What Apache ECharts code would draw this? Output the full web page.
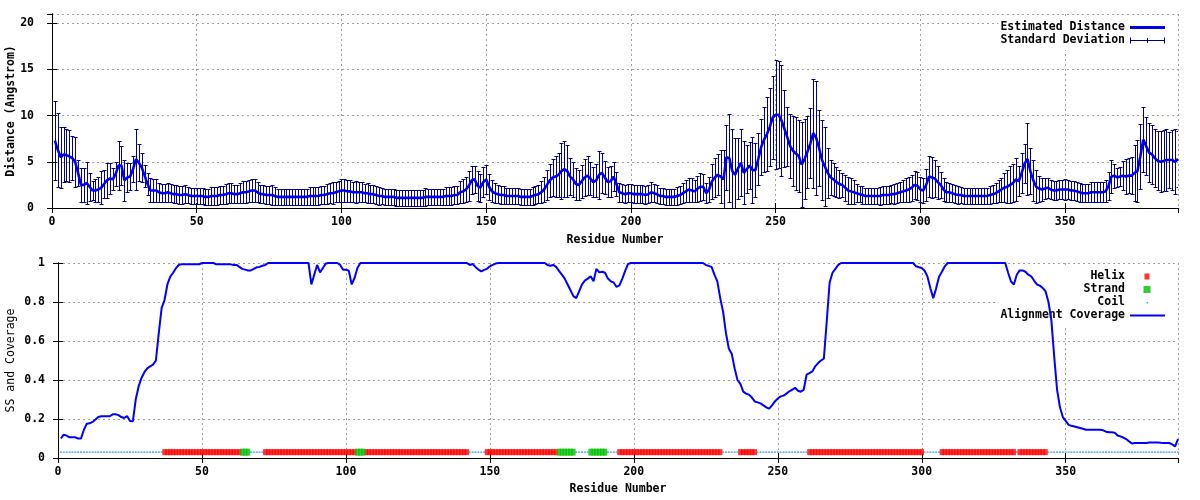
<!DOCTYPE html>
<html><head><meta charset="utf-8">
<script src="https://cdn.jsdelivr.net/npm/echarts@6/dist/echarts.min.js"></script>
<style>html,body{margin:0;padding:0;background:#fff}#c{width:1200px;height:500px}</style>
</head><body><div id="c"></div>
<script>
// ---------------- DATA ----------------
const distanceMean = [
7.3,6.3,5.5,5.8,5.7,5.6,5.4,5.0,3.8,2.5,
2.5,2.7,2.3,1.9,1.9,2.0,2.2,2.6,3.0,3.2,
3.1,3.7,4.6,4.6,3.0,3.3,3.4,4.2,5.3,4.9,
4.4,3.5,2.6,1.9,1.9,1.9,1.7,1.6,1.6,1.7,
1.6,1.5,1.5,1.4,1.4,1.5,1.4,1.3,1.3,1.3,
1.3,1.3,1.2,1.2,1.3,1.3,1.3,1.4,1.4,1.5,
1.6,1.6,1.5,1.5,1.6,1.7,1.7,1.8,1.9,1.9,
1.7,1.5,1.5,1.4,1.4,1.4,1.3,1.2,1.2,1.2,
1.2,1.2,1.2,1.2,1.2,1.2,1.2,1.2,1.3,1.3,
1.3,1.3,1.4,1.4,1.5,1.6,1.6,1.7,1.8,1.9,
1.9,1.8,1.8,1.7,1.7,1.7,1.7,1.6,1.6,1.5,
1.5,1.4,1.3,1.3,1.2,1.2,1.2,1.2,1.1,1.1,
1.1,1.1,1.1,1.1,1.1,1.1,1.1,1.1,1.2,1.2,
1.2,1.2,1.2,1.2,1.2,1.3,1.3,1.3,1.4,1.4,
1.7,1.8,2.0,2.4,3.0,3.1,2.4,2.2,2.8,3.1,
2.3,1.8,1.6,1.5,1.4,1.4,1.3,1.3,1.3,1.3,
1.3,1.2,1.2,1.2,1.2,1.3,1.4,1.5,1.7,2.0,
2.5,3.0,3.3,3.4,3.6,4.0,4.2,4.0,3.4,3.1,
2.6,2.5,2.9,3.3,3.5,3.2,2.8,3.0,3.6,3.8,
3.3,2.8,2.9,3.4,2.6,1.7,1.6,1.5,1.6,1.6,
1.5,1.5,1.5,1.5,1.4,1.5,1.7,1.6,1.5,1.3,
1.3,1.2,1.2,1.2,1.2,1.3,1.4,1.6,1.8,2.0,
1.9,1.8,2.1,2.3,2.3,1.6,2.0,2.9,3.3,3.6,
3.4,3.1,5.5,5.4,4.0,3.6,4.3,4.9,3.8,4.2,
4.6,4.1,4.1,5.3,6.6,7.4,8.0,8.8,9.8,10.1,
10.1,9.5,8.6,7.7,6.7,6.2,5.9,5.6,4.7,5.3,
6.1,7.0,8.1,7.6,6.5,5.2,4.5,3.8,3.3,3.1,
2.8,2.6,2.5,2.2,1.9,1.8,1.7,1.6,1.5,1.4,
1.3,1.3,1.3,1.3,1.3,1.3,1.4,1.4,1.4,1.5,
1.5,1.6,1.7,1.8,1.9,2.0,2.2,2.5,2.4,2.0,
1.9,2.5,3.4,3.3,3.2,2.8,2.5,2.0,1.7,1.7,
1.6,1.5,1.4,1.4,1.3,1.3,1.3,1.3,1.3,1.3,
1.3,1.3,1.3,1.4,1.5,1.6,1.8,2.0,2.2,2.3,
2.5,2.7,3.1,2.9,3.8,4.8,5.3,4.0,3.0,2.3,
2.1,2.0,2.1,2.2,2.0,1.9,1.9,2.0,2.0,2.0,
2.0,1.9,1.9,1.8,1.7,1.6,1.6,1.6,1.7,1.7,
1.7,1.7,1.7,1.8,2.4,3.4,3.5,3.3,3.4,3.5,
3.4,3.5,3.5,3.8,4.0,5.6,7.4,6.7,6.0,5.8,
5.4,5.1,5.0,5.1,5.2,5.2,5.2,5.0,5.3
];
const distanceSD = [
4.3,4.0,3.3,3.0,2.8,2.8,2.4,2.7,1.4,1.8,
1.8,2.3,1.5,1.0,1.2,1.4,1.8,1.5,1.9,1.7,
1.2,1.3,2.6,2.1,2.2,1.6,1.5,1.4,3.3,2.0,
1.6,1.2,1.2,1.3,1.2,1.2,1.0,1.0,1.0,1.0,
1.0,1.0,1.0,1.0,1.0,1.0,0.9,0.9,0.9,0.9,
0.9,0.9,0.9,0.9,1.0,1.0,1.0,1.0,1.0,1.1,
1.1,1.1,1.0,1.0,1.1,1.2,1.2,1.2,1.2,1.2,
1.1,1.0,1.0,1.0,1.0,1.1,1.0,0.9,0.9,0.9,
0.9,0.9,0.9,0.9,0.9,0.9,0.9,0.9,1.0,1.0,
1.0,1.0,1.0,1.0,1.1,1.1,1.2,1.1,1.1,1.2,
1.2,1.2,1.2,1.1,1.2,1.1,1.1,1.0,1.1,1.0,
1.0,1.0,1.0,0.9,0.9,0.9,0.9,0.9,0.9,0.9,
0.9,0.9,0.9,0.9,0.9,0.9,0.9,0.9,1.0,0.9,
0.9,0.9,0.9,0.9,0.9,1.0,1.0,1.0,1.0,1.0,
1.2,1.3,1.4,1.6,1.5,1.5,1.6,1.5,1.6,1.6,
1.4,1.2,1.1,1.0,1.0,1.0,0.9,0.9,0.9,0.9,
0.9,0.9,0.9,0.9,0.9,1.0,1.0,1.0,1.2,1.4,
1.6,1.8,2.0,2.2,2.4,3.0,3.0,2.8,2.0,1.9,
1.7,1.6,1.8,2.0,2.1,1.8,1.6,1.8,2.6,2.2,
1.8,1.6,1.7,1.6,1.3,1.0,1.0,1.0,1.0,1.0,
1.0,1.0,1.0,1.0,1.0,1.0,1.1,1.0,1.0,0.9,
0.9,0.9,0.9,0.9,0.9,1.0,1.0,1.1,1.2,1.3,
1.3,1.2,1.4,1.5,1.4,1.1,1.4,1.9,2.1,2.2,
2.9,3.2,3.5,4.8,4.5,4.0,3.3,3.6,3.4,2.6,
2.5,3.6,2.9,2.8,3.0,3.5,4.0,4.2,4.5,5.9,
5.8,6.0,4.2,3.2,3.5,3.8,4.0,3.9,4.6,4.3,
3.9,3.8,5.9,6.2,4.1,4.3,4.3,2.7,1.9,1.8,
1.6,1.5,1.3,1.4,1.5,1.4,1.3,1.0,0.9,1.0,
0.9,0.9,0.9,0.9,0.9,1.0,1.0,1.0,1.0,1.0,
1.1,1.1,1.1,1.2,1.3,1.4,1.4,1.5,1.5,1.4,
1.4,1.7,2.2,2.2,2.0,1.8,1.4,1.2,1.1,1.0,
1.0,1.0,1.0,0.9,0.9,0.9,0.9,0.9,0.9,0.9,
0.9,0.9,0.9,1.0,1.0,1.1,1.2,1.3,1.6,1.8,
2.0,2.1,2.3,1.6,2.2,2.1,3.9,2.5,2.2,1.8,
1.4,1.2,1.1,1.1,1.0,1.0,1.0,1.0,1.0,1.1,
1.0,1.0,1.0,1.0,1.0,1.0,1.0,1.0,1.1,1.1,
1.1,1.1,1.1,1.2,1.5,1.8,1.3,1.0,1.0,1.6,
1.9,1.9,2.0,3.0,3.4,3.5,3.5,3.1,3.2,3.2,
3.1,3.2,3.3,3.3,3.4,3.0,3.2,3.5,3.0
];
const coverage = [
0.10,0.12,0.115,0.106,0.106,0.106,0.10,0.10,0.145,0.176,
0.178,0.185,0.197,0.21,0.214,0.214,0.214,0.214,0.224,0.224,
0.22,0.21,0.205,0.215,0.19,0.188,0.30,0.367,0.41,0.44,
0.46,0.47,0.479,0.50,0.64,0.77,0.81,0.89,0.93,0.95,
0.974,0.991,0.993,0.993,0.993,0.993,0.993,0.993,0.993,1,
1,1,1,1,0.993,0.993,0.993,0.993,0.993,0.993,
0.99,0.99,0.98,0.97,0.966,0.962,0.962,0.97,0.978,0.98,
0.986,0.99,1,1,1,1,1,1,1,1,
1,1,1,1,1,1,1,0.89,0.94,0.99,
0.952,0.974,0.997,1,1,1,1,0.99,0.966,0.966,
0.96,0.89,0.923,0.974,1,1,1,1,1,1,
1,1,1,1,1,1,1,1,1,1,
1,1,1,1,1,1,1,1,1,1,
1,1,1,1,1,1,1,1,1,1,
1,1,0.99,0.995,0.98,0.966,0.957,0.965,0.97,0.983,
0.99,0.997,1,1,1,1,1,1,1,1,
1,1,1,1,1,1,1,1,1,0.99,
0.986,0.99,0.98,0.96,0.94,0.92,0.89,0.86,0.83,0.82,
0.855,0.89,0.91,0.92,0.932,0.906,0.97,0.952,0.955,0.95,
0.92,0.906,0.9,0.877,0.885,0.92,0.96,0.995,1,1,
1,1,1,1,1,1,1,1,1,1,
1,1,1,1,1,1,1,1,1,1,
1,1,1,1,0.99,0.985,0.98,0.94,0.906,0.82,
0.75,0.64,0.56,0.535,0.46,0.40,0.38,0.34,0.33,0.325,
0.31,0.29,0.285,0.28,0.27,0.26,0.253,0.27,0.29,0.305,
0.316,0.32,0.33,0.342,0.35,0.36,0.345,0.34,0.35,0.427,
0.435,0.444,0.47,0.487,0.50,0.51,0.70,0.90,0.95,0.97,
0.99,1,1,1,1,1,1,1,1,1,
1,1,1,1,1,1,1,1,1,1,
1,1,1,1,1,1,1,0.983,0.978,0.974,
0.96,0.93,0.87,0.82,0.87,0.93,0.955,0.983,1,1,
1,1,1,1,1,1,1,1,1,1,
1,1,1,1,1,1,1,1,1,0.95,
0.905,0.89,0.94,0.962,0.962,0.955,0.94,0.932,0.91,0.89,
0.884,0.872,0.855,0.80,0.71,0.52,0.35,0.26,0.21,0.19,
0.17,0.165,0.162,0.158,0.154,0.15,0.145,0.145,0.145,0.145,
0.145,0.145,0.142,0.135,0.132,0.132,0.13,0.115,0.111,0.105,
0.097,0.085,0.074,0.077,0.077,0.077,0.077,0.077,0.08,0.08,
0.08,0.08,0.078,0.077,0.077,0.077,0.07,0.06,0.097
];
// secondary structure segments (residue ranges, inclusive)
const helixRanges  = [[37,63],[72,103],[107,142],[149,173],[195,230],[237,242],[261,300],[307,332],[334,343]];
const strandRanges = [[64,66],[104,106],[174,179],[185,190]];
const ssLevel = 0.03;
const xMax = 389;

// ---------------- BUILD ----------------
const N = distanceMean.length;
const meanData = [], sdData = [], covData = [];
for (let i = 0; i < N; i++) {
  const r = i + 1;
  meanData.push([r, distanceMean[i]]);
  sdData.push([r, distanceMean[i], distanceSD[i]]);
  covData.push([r, coverage[i]]);
}
const inR = (r, ranges) => ranges.some(g => r >= g[0] && r <= g[1]);
const helixPts = [], strandPts = [], coilPts = [];
for (let r = 1; r <= N; r++) {
  if (inR(r, helixRanges)) helixPts.push([r, ssLevel]);
  else if (inR(r, strandRanges)) strandPts.push([r, ssLevel]);
  else coilPts.push([r, ssLevel]);
}

const FONT = "'DejaVu Sans Mono', monospace";
const lbl = (extra) => Object.assign({fontFamily: FONT, fontWeight: 'bold', fontSize: 11.5, color: '#000'}, extra || {});
const gridLine = {show: true, lineStyle: {color: '#a0a0a0', type: [2, 3], width: 1}};
const axLine = {show: true, lineStyle: {color: '#000', width: 1}};
const tick = {show: true, inside: true, length: 5, lineStyle: {color: '#000'}};

function xAx(grid, pos, main) {
  return {
    type: 'value', gridIndex: grid, position: pos, min: 0, max: xMax, interval: 50,
    axisLine: axLine, axisTick: tick,
    axisLabel: main ? lbl({margin: 8, showMaxLabel: false}) : {show: false},
    splitLine: main ? gridLine : {show: false},
    name: main ? 'Residue Number' : '', nameLocation: 'middle', nameMoveOverlap: false,
    nameGap: grid === 0 ? 26 : 25, nameTextStyle: lbl()
  };
}
function yAx(grid, pos, main, max, interval, margin, name, nameGap, nameWeight) {
  return {
    type: 'value', gridIndex: grid, position: pos, min: 0, max: max, interval: interval,
    axisLine: axLine, axisTick: tick,
    axisLabel: main ? lbl({margin: margin, showMaxLabel: grid === 1}) : {show: false},
    splitLine: main ? gridLine : {show: false},
    name: main ? name : '', nameLocation: 'middle', nameGap: nameGap, nameMoveOverlap: false,
    nameTextStyle: lbl({fontWeight: nameWeight})
  };
}

const chart = echarts.init(document.getElementById('c'), null, {renderer: 'canvas'});
const P = (s) => 'path://' + s;
const legendBase = {
  orient: 'vertical', align: 'right', right: 22, itemWidth: 35, itemHeight: 8, itemGap: 0,
  padding: [5, 13, 3, 2], backgroundColor: '#fff', selectedMode: false, symbolKeepAspect: false,
  z: 1, textStyle: lbl({lineHeight: 13})
};

chart.setOption({
  animation: false,
  backgroundColor: '#fff',
  grid: [
    {left: 52, right: 22, top: 14, height: 194, outerBoundsMode: 'none', containLabel: false},
    {left: 58, right: 22, top: 263, height: 195, outerBoundsMode: 'none', containLabel: false}
  ],
  xAxis: [xAx(0, 'bottom', true), xAx(0, 'top', false), xAx(1, 'bottom', true), xAx(1, 'top', false)],
  yAxis: [
    yAx(0, 'left', true, 21, 5, 18, 'Distance (Angstrom)', 35, 'bold'),
    yAx(0, 'right', false, 21, 5, 0, '', 0, 'bold'),
    yAx(1, 'left', true, 1, 0.2, 13, 'SS and Coverage', 41, 'normal'),
    yAx(1, 'right', false, 1, 0.2, 0, '', 0, 'normal')
  ],
  legend: [
    Object.assign({}, legendBase, {top: 16, data: [
      {name: 'Estimated Distance', icon: P('M0,0 M35,8 M0,2.6 h35 v2.8 h-35 z'), itemStyle: {color: '#0000ee', borderWidth: 0}},
      {name: 'Standard Deviation', icon: P('M0,0 M35,8 M0,1 h1 v6 h-1 z M0,3.5 h35 v1 h-35 z M34,1 h1 v6 h-1 z M17,1.5 h1 v5 h-1 z'), itemStyle: {color: '#00008b', borderWidth: 0}}
    ]}),
    Object.assign({}, legendBase, {top: 265, data: [
      {name: 'Helix', icon: P('M0,0 M35,8 M14.5,1 h5 v6 h-5 z'), itemStyle: {color: '#ff0000', borderWidth: 0}},
      {name: 'Strand', icon: P('M0,0 M35,8 M13.5,0.5 h7 v7 h-7 z'), itemStyle: {color: '#00c000', borderWidth: 0}},
      {name: 'Coil', icon: P('M0,0 M35,8 M16.5,3.5 h1.5 v1.5 h-1.5 z'), itemStyle: {color: '#2a8cff', borderWidth: 0}},
      {name: 'Alignment Coverage', icon: P('M0,0 M35,8 M0,3 h35 v2 h-35 z'), itemStyle: {color: '#0000ff', borderWidth: 0}}
    ]})
  ],
  series: [
    {
      name: 'Standard Deviation', type: 'custom', xAxisIndex: 0, yAxisIndex: 0,
      itemStyle: {color: '#00008b'}, silent: true, clip: true,
      encode: {x: 0, y: 1},
      data: sdData,
      renderItem: function (params, api) {
        const x = api.value(0), m = api.value(1), s = api.value(2);
        const lo = api.coord([x, m - s]);
        const hi = api.coord([x, m + s]);
        const px = Math.round(lo[0]) + 0.5;
        const yl = Math.round(lo[1]) + 0.5, yh = Math.round(hi[1]) + 0.5;
        const hw = 2;
        const st = {stroke: '#00008b', lineWidth: 1, fill: null};
        return {type: 'group', children: [
          {type: 'line', shape: {x1: px, y1: yl, x2: px, y2: yh}, style: st},
          {type: 'line', shape: {x1: px - hw, y1: yl, x2: px + hw, y2: yl}, style: st},
          {type: 'line', shape: {x1: px - hw, y1: yh, x2: px + hw, y2: yh}, style: st}
        ]};
      },
      z: 2
    },
    {
      name: 'Estimated Distance', type: 'line', xAxisIndex: 0, yAxisIndex: 0,
      data: meanData, showSymbol: false, symbol: 'none', silent: true,
      itemStyle: {color: '#0000ee'},
      lineStyle: {color: '#0000ee', width: 2.6}, z: 3
    },
    {
      name: 'Coil', type: 'scatter', xAxisIndex: 2, yAxisIndex: 2, data: coilPts,
      symbol: 'rect', symbolSize: [2, 1.5], itemStyle: {color: '#2a8cff'}, silent: true, z: 2
    },
    {
      name: 'Helix', type: 'scatter', xAxisIndex: 2, yAxisIndex: 2, data: helixPts,
      symbol: 'rect', symbolSize: [4.5, 6], itemStyle: {color: '#ff0000'}, silent: true, z: 2
    },
    {
      name: 'Strand', type: 'scatter', xAxisIndex: 2, yAxisIndex: 2, data: strandPts,
      symbol: 'rect', symbolSize: [4.5, 7], itemStyle: {color: '#00c000'}, silent: true, z: 2
    },
    {
      name: 'Alignment Coverage', type: 'line', xAxisIndex: 2, yAxisIndex: 2,
      data: covData, showSymbol: false, symbol: 'none', silent: true,
      itemStyle: {color: '#0000ff'},
      lineStyle: {color: '#0000ff', width: 2}, z: 3
    }
  ]
});
</script>
</body></html>
